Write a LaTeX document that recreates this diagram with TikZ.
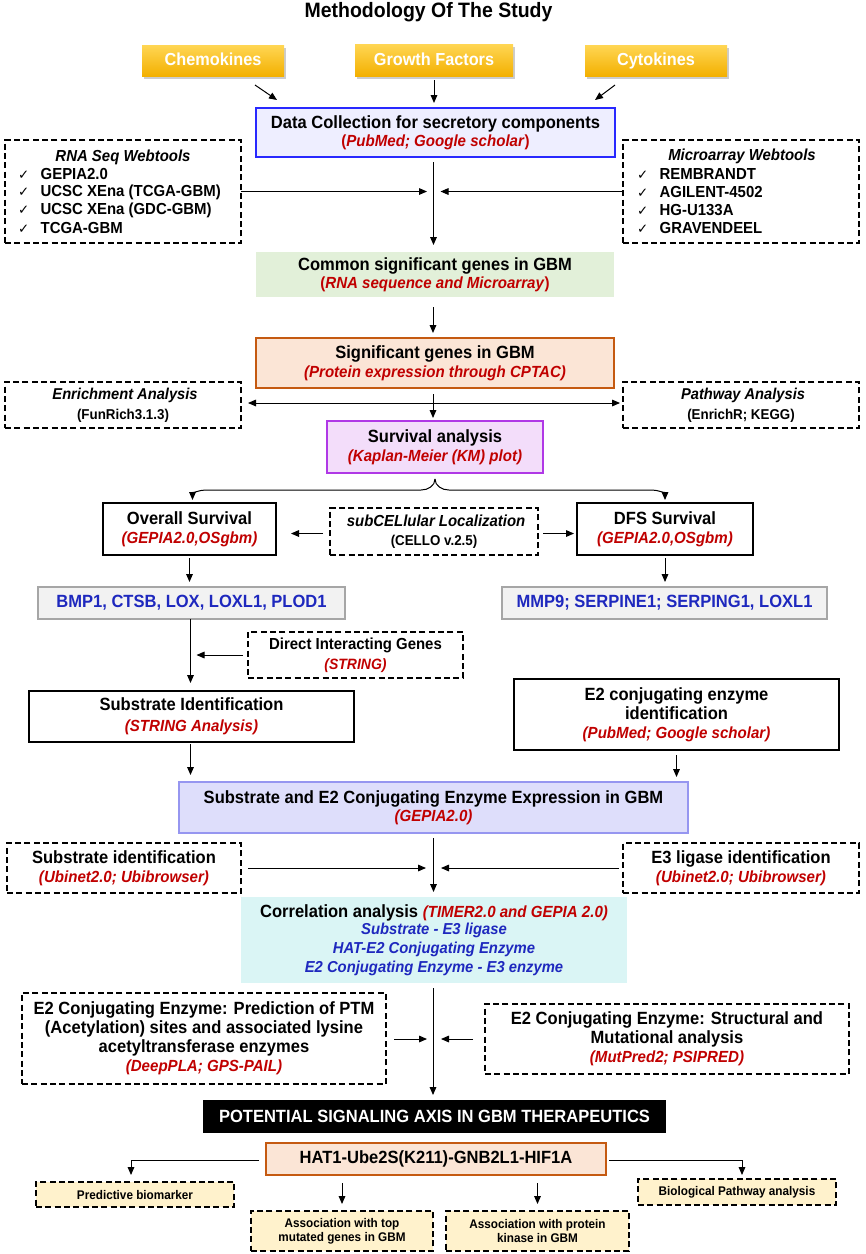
\documentclass[tikz,border=0pt]{standalone}
\usepackage{fontspec}
\setmainfont[Scale=1.07,FakeStretch=0.935]{Liberation Sans}
\newfontfamily\ckfont{DejaVu Sans}
\usetikzlibrary{arrows.meta,calc,shadows}

\definecolor{redt}{RGB}{192,0,0}
\definecolor{bluet}{RGB}{30,40,190}
\definecolor{yelA}{RGB}{255,214,84}
\definecolor{yelB}{RGB}{243,176,0}
\definecolor{dataf}{RGB}{238,238,255}
\definecolor{datab}{RGB}{40,40,255}
\definecolor{commonf}{RGB}{226,240,217}
\definecolor{sigf}{RGB}{251,229,214}
\definecolor{sigb}{RGB}{197,90,17}
\definecolor{survf}{RGB}{243,221,250}
\definecolor{survb}{RGB}{176,56,230}
\definecolor{genef}{RGB}{242,242,242}
\definecolor{geneb}{RGB}{166,166,166}
\definecolor{exprf}{RGB}{222,222,251}
\definecolor{exprb}{RGB}{150,150,240}
\definecolor{corrf}{RGB}{218,245,245}
\definecolor{botf}{RGB}{255,242,204}

\newcommand\fs[2]{\fontsize{#1}{#2}\selectfont}
\newcommand\rp[1]{{\color{redt}\fs{11.3}{14}(\textit{#1})}}
\newcommand\ri[1]{{\color{redt}\fs{11.3}{14}\textit{(#1)}}}
\newcommand\ck{\makebox[17pt][l]{\ckfont\mdseries\fs{10}{12}✓}}
\newcommand\bx[7]{%
  \pgfmathsetmacro\bxw{(#4-#2)*0.75}%
  \pgfmathsetmacro\bxh{(#5-#3)*0.75}%
  \node[base,#6,minimum width=\bxw pt,minimum height=\bxh pt] (#1) at ({(#2+#4)/2},{(#3+#5)/2}) {#7};}

\begin{document}
\begin{tikzpicture}[x=0.75pt,y=-0.75pt,
  base/.style={inner sep=0pt,outer sep=0pt,align=center,font=\bfseries\fs{12.4}{14.25}},
  dbox/.style={draw=black,line width=1.1pt,dash pattern=on 4.5pt off 2.5pt},
  sbox/.style={draw=black,line width=1.1pt,fill=white},
  yel/.style={top color=yelA,bottom color=yelB,text=white,font=\bfseries\fs{12.2}{14},
    text height=1.6ex,text depth=0.25ex,
    drop shadow={shadow xshift=1.5pt,shadow yshift=-2.5pt,fill=black!40}},
  lst/.style={inner sep=0pt,outer sep=0pt,font=\bfseries\fs{11.2}{13}},
  arr/.style={-{Triangle[length=6pt,width=5pt]},line width=0.75pt},
  dbl/.style={{Triangle[length=6pt,width=5pt]}-{Triangle[length=6pt,width=5pt]},line width=0.75pt}]
\useasboundingbox (0,0) rectangle (865,1254);

\node[base,font=\bfseries\fs{14.6}{18}] (title) at (428.5,12) {Methodology Of The Study};

\bx{chem}{142}{45}{284}{76}{yel}{Chemokines}
\bx{growth}{355}{44}{513}{76}{yel}{Growth Factors}
\bx{cyto}{585}{45}{727}{76}{yel}{Cytokines}

\bx{data}{256}{108}{615}{157}{draw=datab,fill=dataf,line width=1.1pt}{Data Collection for secretory components\\[-1pt]\rp{PubMed; Google scholar}}

\bx{rna}{5}{140}{241}{243}{dbox}{}
\node[lst,font=\bfseries\itshape\fs{11.2}{13}] (rnat) at (123,157) {RNA Seq Webtools};
\node[lst,anchor=west] (rna1) at (18,174) {\ck GEPIA2.0};
\node[lst,anchor=west] (rna2) at (18,192) {\ck UCSC XEna (TCGA-GBM)};
\node[lst,anchor=west] (rna3) at (18,210) {\ck UCSC XEna (GDC-GBM)};
\node[lst,anchor=west] (rna4) at (18,228) {\ck TCGA-GBM};

\bx{micro}{623}{140}{859}{243}{dbox}{}
\node[lst,font=\bfseries\itshape\fs{11.2}{13}] (mict) at (742,156) {Microarray Webtools};
\node[lst,anchor=west] (mic1) at (637,174) {\ck REMBRANDT};
\node[lst,anchor=west] (mic2) at (637,192) {\ck AGILENT-4502};
\node[lst,anchor=west] (mic3) at (637,210) {\ck HG-U133A};
\node[lst,anchor=west] (mic4) at (637,228) {\ck GRAVENDEEL};

\bx{common}{256}{252}{614}{297}{fill=commonf}{Common significant genes in GBM\\[-1pt]\rp{RNA sequence and Microarray}}
\bx{sig}{256}{338}{614}{388}{fill=sigf,draw=sigb,line width=1.1pt}{Significant genes in GBM\\\ri{Protein expression through CPTAC}}
\bx{enr}{5}{382}{241}{428}{dbox}{{\itshape\fs{11}{14} Enrichment Analysis}\\[1pt]{\fs{10}{12}(FunRich3.1.3)}}
\bx{path}{623}{382}{859}{428}{dbox}{{\itshape\fs{11}{14} Pathway Analysis}\\[1pt]{\fs{10}{12}(EnrichR; KEGG)}}
\bx{surv}{327}{421}{543}{473}{fill=survf,draw=survb,line width=1.1pt}{Survival analysis\\\ri{Kaplan-Meier (KM) plot}}

\bx{os}{103}{503}{276}{555}{sbox}{Overall Survival\\\ri{GEPIA2.0,OSgbm}}
\bx{subcel}{330}{508}{538}{555}{dbox}{{\itshape\fs{11.2}{14} subCELlular Localization}\\{\fs{10}{12}(CELLO v.2.5)}}
\bx{dfs}{577}{503}{753}{555}{sbox}{DFS Survival\\\ri{GEPIA2.0,OSgbm}}

\bx{genesA}{38}{587}{345}{619}{fill=genef,draw=geneb,line width=1.1pt}{\color{bluet}BMP1, CTSB, LOX, LOXL1, PLOD1}
\bx{genesB}{502}{587}{827}{619}{fill=genef,draw=geneb,line width=1.1pt}{\color{bluet}MMP9; SERPINE1; SERPING1, LOXL1}

\bx{dig}{248}{632}{463}{678}{dbox}{{\fs{11.2}{14}Direct Interacting Genes}\\[1pt]{\color{redt}\itshape\fs{10.5}{12}(STRING)}}
\bx{subid}{29}{691}{354}{742}{sbox}{Substrate Identification\\[1.5pt]\ri{STRING Analysis}}
\bx{e2id}{514}{679}{839}{750}{sbox}{E2 conjugating enzyme\\identification\\\ri{PubMed; Google scholar}}

\bx{expr}{179}{782}{688}{833}{fill=exprf,draw=exprb,line width=1.1pt}{Substrate and E2 Conjugating Enzyme Expression in GBM\\[-1pt]\ri{GEPIA2.0}}

\bx{subidB}{7}{843}{241}{893}{dbox}{Substrate identification\\\ri{Ubinet2.0; Ubibrowser}}
\bx{e3id}{623}{843}{859}{893}{dbox}{E3 ligase identification\\\ri{Ubinet2.0; Ubibrowser}}

\bx{corr}{241}{897}{627}{983}{fill=corrf}{Correlation analysis \ri{TIMER2.0 and GEPIA 2.0}\\[-1.5pt]
  {\color{bluet}\itshape\fs{11.1}{13.3}Substrate - E3 ligase}\\
  {\color{bluet}\itshape\fs{11.1}{13.3}HAT-E2 Conjugating Enzyme}\\
  {\color{bluet}\itshape\fs{11.1}{13.3}E2 Conjugating Enzyme - E3 enzyme}}

\bx{ptm}{22}{993}{386}{1084}{dbox}{E2 Conjugating Enzyme: Prediction of PTM\\(Acetylation) sites and associated lysine\\acetyltransferase enzymes\\\ri{DeepPLA; GPS-PAIL}}
\bx{struct}{485}{1004}{849}{1074}{dbox}{E2 Conjugating Enzyme: Structural and\\Mutational analysis\\\ri{MutPred2; PSIPRED}}

\bx{axis}{203}{1100}{666}{1133}{fill=black,text=white}{POTENTIAL SIGNALING AXIS IN GBM THERAPEUTICS}
\bx{hat}{266}{1143}{606}{1175}{fill=sigf,draw=sigb,line width=1.5pt}{HAT1-Ube2S(K211)-GNB2L1-HIF1A}

\bx{pred}{36}{1182}{234}{1207}{dbox,fill=botf,font=\bfseries\fs{8.8}{10.5}}{Predictive biomarker}
\bx{bio}{638}{1179}{836}{1205}{dbox,fill=botf,font=\bfseries\fs{8.8}{10.5}}{Biological Pathway analysis}
\bx{mut}{251}{1211}{433}{1251}{dbox,fill=botf,font=\bfseries\fs{8.8}{10.5}}{Association with top\\mutated genes in GBM}
\bx{kin}{446}{1211}{629}{1251}{dbox,fill=botf,font=\bfseries\fs{8.8}{10.5}}{Association with protein\\kinase in GBM}

% connectors
\draw[arr] ($(chem.south)+(42,9)$) -- ($(data.north west)+(21,-8)$);
\draw[arr] ($(growth.south)+(0,4)$) -- ($(growth.south |- data.north)+(0,-5)$);
\draw[arr] ($(cyto.south)+(-41,9)$) -- ($(data.north east)+(-20,-8)$);

\draw[arr] ($(data.south)+(-2,5)$) -- ($(data.south |- common.north)+(-2,-7)$);
\draw[arr] (rna.east) -- ($(rna.east -| data.south)+(-8.5,0)$);
\draw[arr] (micro.west) -- ($(micro.west -| data.south)+(5,0)$);

\draw[arr] ($(common.south)+(-2,10)$) -- ($(common.south |- sig.north)+(-2,-5)$);
\draw[arr] ($(sig.south)+(-2,6)$) -- ($(sig.south |- surv.north)+(-2,-3)$);
\draw[dbl] ($(enr.east)+(7,-2)$) -- ($(path.west)+(-3,-2)$);

\draw[arr] ($(surv.south)+(0,6)$) to[out=-90,in=0] ($(surv.south)+(-14,17)$)
  -- ($(os.north)+(16,-13)$) to[out=180,in=90] ($(os.north)+(3,-3)$);
\draw[arr] ($(surv.south)+(0,6)$) to[out=-90,in=180] ($(surv.south)+(14,17)$)
  -- ($(dfs.north)+(-13,-13)$) to[out=0,in=90] ($(dfs.north)+(0,-3)$);

\draw[arr] ($(subcel.west)+(-7,2)$) -- ($(subcel.west -| os.east)+(15,2)$);
\draw[arr] ($(subcel.east)+(5,2)$) -- ($(subcel.east -| dfs.west)+(-3,2)$);

\draw[arr] ($(os.south)+(0,3)$) -- ($(os.south |- genesA.north)+(0,-5)$);
\draw[arr] ($(dfs.south)+(0,3)$) -- ($(dfs.south |- genesB.north)+(0,-5)$);

\draw[arr] ($(genesA.south)+(-1,0)$) -- ($(genesA.south |- subid.north)+(-1,-8)$);
\draw[arr] ($(dig.west)+(-5,0)$) -- ($(dig.west -| genesA.south)+(5,0)$);

\draw[arr] ($(subid.south)+(-1,2)$) -- ($(subid.south |- expr.north)+(-1,-7)$);
\draw[arr] ($(e2id.south)+(0,5)$) -- ($(e2id.south |- expr.north)+(0,-5)$);

\draw[arr] ($(expr.south)+(0,5)$) -- ($(expr.south |- corr.north)+(0,-5)$);
\draw[arr] ($(subidB.east)+(7,0)$) -- ($(subidB.east -| expr.south)+(-7.5,0)$);
\draw[arr] ($(e3id.west)+(-4,0)$) -- ($(e3id.west -| expr.south)+(7.5,0)$);

\draw[arr] ($(corr.south)+(-1,5)$) -- ($(corr.south |- axis.north)+(-1,-5)$);
\draw[arr] ($(ptm.east)+(8,0.5)$) -- ($(ptm.east -| corr.south)+(-7,0.5)$);
\draw[arr] ($(struct.west)+(-12,0)$) -- ($(struct.west -| corr.south)+(7,0)$);

\draw[arr] ($(hat.west)+(-7,1)$) -| ($(pred.north)+(-4,-7)$);
\draw[arr] ($(hat.east)+(3,1)$) -| ($(bio.north)+(5,-4)$);
\draw[arr] ($(mut.north |- hat.south)+(0,8)$) -- ($(mut.north)+(0,-7)$);
\draw[arr] ($(kin.north |- hat.south)+(0,8)$) -- ($(kin.north)+(0,-7)$);
\end{tikzpicture}
\end{document}
